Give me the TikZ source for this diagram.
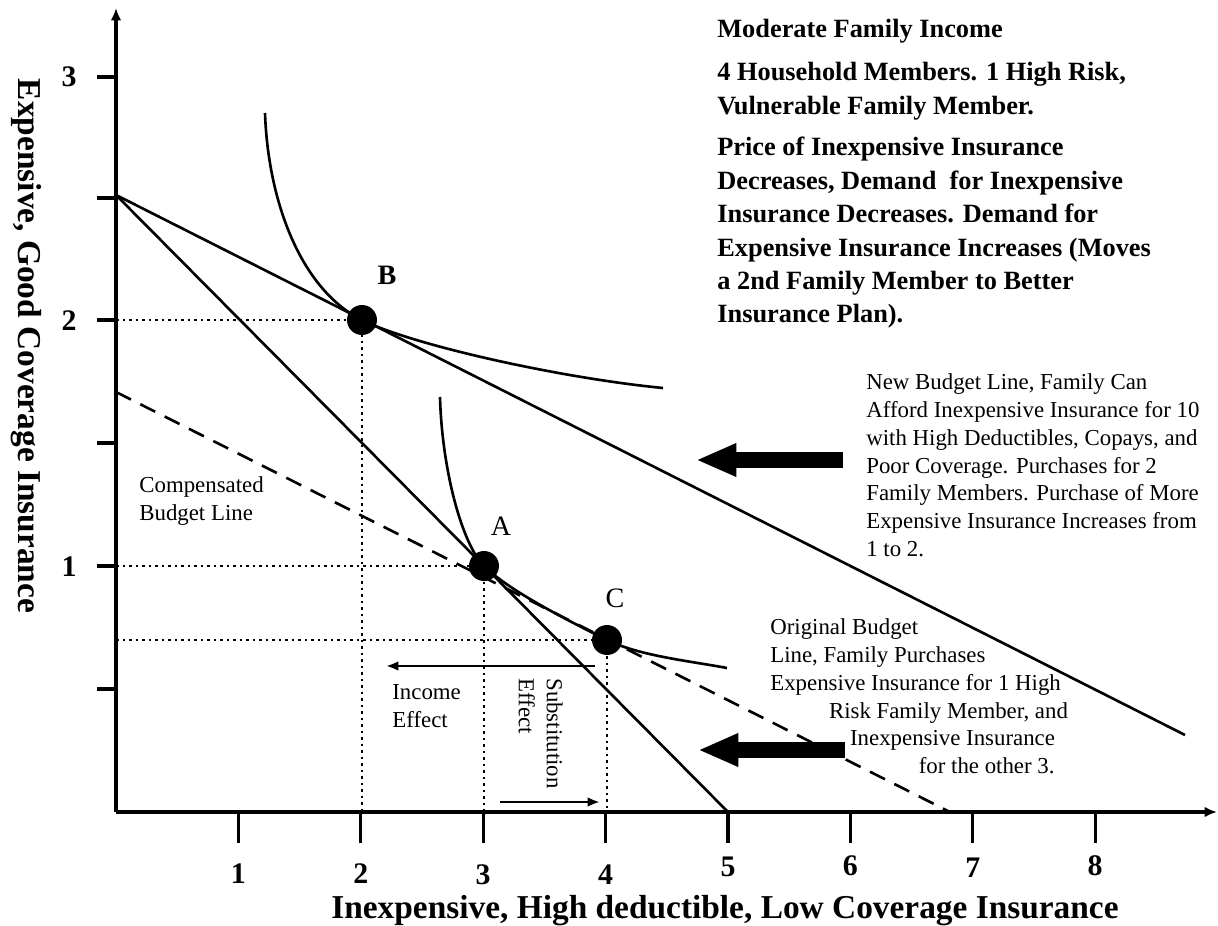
\documentclass[tikz,border=0pt]{standalone}
\usepackage{fontspec}
\setmainfont{Liberation Serif}
\usetikzlibrary{arrows.meta}
\begin{document}
\begin{tikzpicture}[x=0.02cm,y=-0.02cm,
  axis/.style={line width=1.9pt},
  budget/.style={line width=1.5pt},
  indiff/.style={line width=1.5pt},
  guide/.style={line width=1.7pt, dash pattern=on 1.6pt off 2.1pt},
  comp/.style={line width=1.5pt, dash pattern=on 9.5pt off 6pt},
  dot/.style={circle, fill=black, inner sep=0pt, minimum size=0.6cm},
  bigarrow/.style={line width=9pt, -{Triangle[length=23pt,width=17.5pt]}},
  effarrow/.style={line width=1.4pt, -{Latex[length=7pt,width=5.5pt]}},
  numlab/.style={font=\bfseries\fontsize{17}{20}\selectfont, inner sep=0pt},
  ptlab/.style={font=\fontsize{16}{19}\selectfont, inner sep=0pt},
  axlab/.style={font=\bfseries\fontsize{19}{22}\selectfont, inner sep=0pt},
  headnote/.style={font=\bfseries\fontsize{15}{19}\selectfont, align=left, inner sep=0pt, anchor=north west},
  note/.style={font=\fontsize{13}{15.9}\selectfont, align=left, inner sep=0pt, anchor=north west},
]
\useasboundingbox (0,0) rectangle (1218,926);

% axes
\coordinate (O) at (116,812);
\coordinate (ytop) at (116,8);
\coordinate (xend) at (1217,812);
\draw[axis, -{Latex[length=7pt,width=6pt]}] (O) -- (ytop);
\draw[axis, -{Latex[length=7pt,width=6pt]}] (O) -- (xend);

% tick marks and numbers
\foreach \i/\ly in {1/874,2/874,3/875,4/875,5/867,6/866,7/868,8/866}{
  \draw[axis] ({116+122.4*\i},812) -- ({116+122.4*\i},843);
  \node[numlab] (xl\i) at ({116+122.4*\i},\ly) {\i};
}
\foreach \yy in {77,198,320,443,566,689}{
  \draw[axis] (97,\yy) -- (116,\yy);
}
\node[numlab] (yl3) at (69,77) {3};
\node[numlab] (yl2) at (69,321) {2};
\node[numlab] (yl1) at (69,567) {1};

% axis titles
\node[axlab, anchor=base] (xtitle) at (725,918) {Inexpensive, High deductible, Low Coverage Insurance};
\node[axlab, anchor=base, rotate=-90] (ytitle) at (18,346) {Expensive, Good Coverage Insurance};

% consumption points
\node[dot] (B) at (362,320) {};
\node[dot] (A) at (484,566) {};
\node[dot] (C) at (607,640) {};
\node[ptlab, font=\bfseries\fontsize{16}{19}\selectfont] (Blab) at (387,275) {B};
\node[ptlab] (Alab) at (501,526) {A};
\node[ptlab] (Clab) at (615,598) {C};

% dotted guides to the axes
\coordinate (By) at (116,320); \coordinate (Bx) at (362,812);
\coordinate (Ay) at (116,566); \coordinate (Ax) at (484,812);
\coordinate (Cy) at (116,640); \coordinate (Cx) at (607,812);
\draw[guide] (By) -- (B.center) -- (Bx);
\draw[guide] (Ay) -- (A.center) -- (Ax);
\draw[guide] (Cy) -- (C.center) -- (Cx);

% budget lines
\coordinate (yint) at (116,195);
\coordinate (origX) at (728,812);
\coordinate (newEnd) at (1185,735);
\coordinate (compY) at (116,392);
\coordinate (compX) at (950,812);
\draw[budget] (yint) -- (origX);
\draw[budget] (yint) -- (newEnd);
\draw[comp] (compY) -- (compX);

% indifference curves
\coordinate (u0) at (265,113);
\coordinate (u1) at (663,388);
\draw[indiff] (u0) .. controls (268,200) and (300,289) .. (B.center)
              .. controls (412,345) and (560,378) .. (u1);
\coordinate (l0) at (440,397);
\coordinate (l1) at (727,668);
\draw[indiff] (l0) .. controls (442,470) and (462,544) .. (A.center)
              .. controls (509,591) and (571,622) .. (C.center)
              .. controls (640,656) and (690,661) .. (l1);

% income and substitution effects
\coordinate (ieS) at (595,666); \coordinate (ieE) at (386,666);
\coordinate (seS) at (500,802); \coordinate (seE) at (600,802);
\draw[effarrow] (ieS) -- (ieE);
\draw[effarrow] (seS) -- (seE);
\node[note] (inc) at (392,684) {Income\\Effect};
\node[note, rotate=-90] (sub) at (563,678) {Substitution\\Effect};

\node[note] (cbl) at (139,476) {Compensated\\Budget Line};

% pointer arrows
\coordinate (p1S) at (843,460); \coordinate (p1E) at (696,460);
\coordinate (p2S) at (845,750); \coordinate (p2E) at (698,750);
\draw[bigarrow] (p1S) -- (p1E);
\draw[bigarrow] (p2S) -- (p2E);

% annotations
\node[headnote] (h1) at (717,19) {Moderate Family Income};
\node[headnote] (h2) at (717,62) {4 Household Members. 1 High Risk,\\Vulnerable Family Member.};
\node[headnote] (h3) at (717,137) {Price of Inexpensive Insurance\\Decreases, Demand\ \ for Inexpensive\\Insurance Decreases. Demand for\\Expensive Insurance Increases (Moves\\a 2nd Family Member to Better\\Insurance Plan).};

\node[note] (newnote) at (866,373) {New Budget Line, Family Can\\Afford Inexpensive Insurance for 10\\with High Deductibles, Copays, and\\Poor Coverage. Purchases for 2\\Family Members. Purchase of More\\Expensive Insurance Increases from\\1 to 2.};

\node[note] (orignote) at (770,618) {Original Budget\\Line, Family Purchases\\Expensive Insurance for 1 High\\\hspace*{33.4pt}Risk Family Member, and\\\hspace*{45.4pt}Inexpensive Insurance\\\hspace*{84.5pt}for the other 3.};
\end{tikzpicture}
\end{document}
